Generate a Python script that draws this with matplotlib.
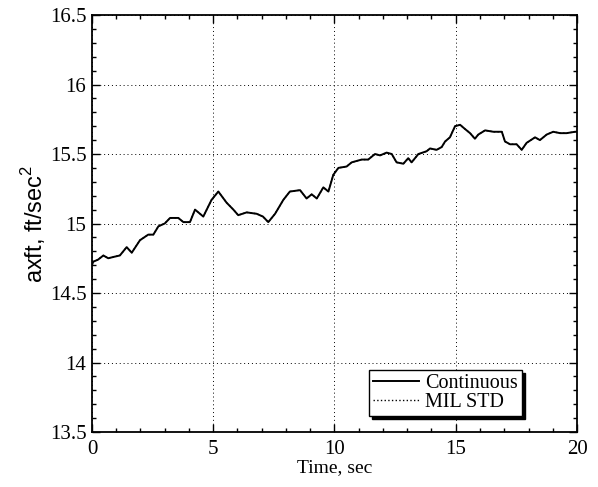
import matplotlib
matplotlib.use("Agg")
import matplotlib.pyplot as plt
from matplotlib.ticker import MultipleLocator

time_s = [0.0, 0.05, 0.25, 0.47, 0.67, 0.9, 1.15, 1.43, 1.64, 1.98, 2.32, 2.53, 2.74, 3.0, 3.22,
          3.56, 3.77, 4.04, 4.25, 4.59, 4.93, 5.21, 5.55, 5.83, 6.03, 6.38, 6.79, 7.05, 7.27,
          7.55, 7.89, 8.16, 8.58, 8.85, 9.06, 9.27, 9.54, 9.75, 9.95, 10.16, 10.5, 10.71,
          11.12, 11.39, 11.67, 11.88, 12.15, 12.36, 12.56, 12.84, 13.04, 13.18, 13.46, 13.8,
          13.94, 14.21, 14.42, 14.56, 14.76, 14.97, 15.18, 15.38, 15.59, 15.79, 15.93, 16.21,
          16.55, 16.9, 17.03, 17.24, 17.51, 17.72, 17.92, 18.27, 18.47, 18.75, 19.02, 19.3,
          19.57, 19.92, 20.0]
continuous = [14.70, 14.725, 14.74, 14.77, 14.75, 14.76, 14.77, 14.83, 14.79, 14.88, 14.92, 14.92,
              14.98, 15.00, 15.04, 15.04, 15.01, 15.01, 15.10, 15.05, 15.17, 15.23, 15.15, 15.10,
              15.06, 15.08, 15.07, 15.05, 15.01, 15.07, 15.17, 15.23, 15.24, 15.18, 15.21, 15.18,
              15.26, 15.23, 15.35, 15.40, 15.41, 15.44, 15.46, 15.46, 15.50, 15.49, 15.51, 15.50,
              15.44, 15.43, 15.47, 15.44, 15.50, 15.52, 15.54, 15.53, 15.55, 15.59, 15.62, 15.70,
              15.71, 15.68, 15.65, 15.61, 15.64, 15.67, 15.66, 15.66, 15.59, 15.57, 15.57, 15.53,
              15.58, 15.62, 15.60, 15.64, 15.66, 15.65, 15.65, 15.66, 15.66]
mil_std = list(continuous)

x_ticks = [0, 5, 10, 15, 20]
y_ticks = [13.5, 14, 14.5, 15, 15.5, 16, 16.5]
y_tick_labels = ["13.5", "14", "14.5", "15", "15.5", "16", "16.5"]

plt.rcParams['font.family'] = ['Liberation Serif', 'DejaVu Serif']

fig = plt.figure(figsize=(5.98, 4.87), dpi=100)
ax = fig.add_axes([0.1538, 0.1129, 0.8111, 0.8563])

ax.plot(time_s, mil_std, color='black', linestyle=':', linewidth=1.0, label='MIL STD', zorder=2)
ax.plot(time_s, continuous, color='black', linestyle='-', linewidth=1.4, label='Continuous', zorder=3)

ax.set_xlim(0, 20)
ax.set_ylim(13.5, 16.5)
ax.set_xticks(x_ticks)
ax.set_xticklabels([str(v) for v in x_ticks])
ax.set_yticks(y_ticks)
ax.set_yticklabels(y_tick_labels)
ax.xaxis.set_minor_locator(MultipleLocator(1))
ax.yaxis.set_minor_locator(MultipleLocator(0.1))
ax.tick_params(which='both', direction='in', top=True, right=True, labelsize=15, width=1.0)
ax.tick_params(which='major', length=6)
ax.tick_params(which='minor', length=3)
ax.tick_params(axis='x', pad=6)
ax.tick_params(axis='y', pad=4)
ax.grid(True, which='major', color='black', linestyle=(0, (1, 3)), linewidth=0.7)
for s in ax.spines.values():
    s.set_linewidth(1.3)

ax.set_xlabel('Time, sec', fontsize=14, labelpad=0)
ax.set_ylabel(r'axft, ft/sec$^{\mathregular{2}}$', fontsize=17,
              family=['Liberation Sans', 'DejaVu Sans'])
ax.yaxis.set_label_coords(-0.09, 0.5)

handles, labels = ax.get_legend_handles_labels()
leg = ax.legend(handles[::-1], labels[::-1], loc='lower right', bbox_to_anchor=(0.887, 0.038),
                fontsize=14.5, frameon=True, fancybox=False, edgecolor='black', framealpha=1,
                shadow={'color': 'black', 'alpha': 1}, handlelength=2.3, borderpad=0.2,
                labelspacing=0.0, handletextpad=0.3, borderaxespad=0)
leg.get_frame().set_linewidth(1.0)

fig.savefig('out.png', dpi=100)
